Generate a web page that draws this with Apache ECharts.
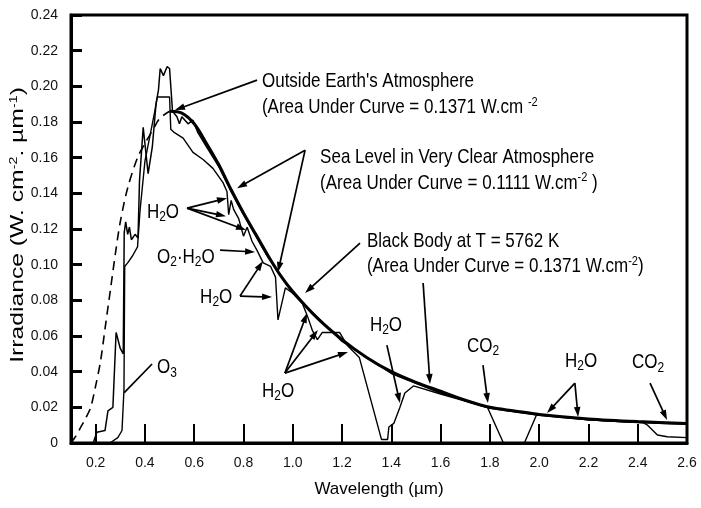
<!DOCTYPE html>
<html>
<head>
<meta charset="utf-8">
<script src="https://cdn.jsdelivr.net/npm/echarts@6/dist/echarts.min.js"></script>
<style>
html, body { margin: 0; padding: 0; background: #fff; }
#chart { width: 701px; height: 508px; }
</style>
</head>
<body>
<div id="chart"></div>
<script>
// wavelength ticks (µm)
var xTicks = [0.2, 0.4, 0.6, 0.8, 1.0, 1.2, 1.4, 1.6, 1.8, 2.0, 2.2, 2.4, 2.6];

// black body 5762 K, dashed part (short wavelengths)
var blackDash = [
  [0.10, 0], [0.12, 0.004], [0.14, 0.009], [0.16, 0.014], [0.18, 0.020],
  [0.20, 0.032], [0.22, 0.046], [0.24, 0.066], [0.26, 0.086], [0.28, 0.106],
  [0.30, 0.124], [0.33, 0.143], [0.37, 0.160], [0.40, 0.168], [0.43, 0.175],
  [0.46, 0.182], [0.50, 0.186]
];

// black body, solid part
var blackSolid = [
  [0.50, 0.186], [0.55, 0.185], [0.60, 0.179], [0.65, 0.168], [0.70, 0.156],
  [0.75, 0.142], [0.80, 0.129], [0.85, 0.117], [0.90, 0.105], [0.95, 0.094],
  [1.00, 0.085], [1.10, 0.070], [1.20, 0.058], [1.30, 0.048], [1.40, 0.040],
  [1.50, 0.034], [1.60, 0.029], [1.70, 0.024], [1.80, 0.020], [1.90, 0.018],
  [2.00, 0.016], [2.20, 0.0135], [2.40, 0.012], [2.60, 0.011]
];

// outside earth's atmosphere
var outside = [
  [0.19, 0], [0.205, 0.006], [0.238, 0.007], [0.25, 0.018], [0.27, 0.020],
  [0.283, 0.062], [0.30, 0.053], [0.312, 0.050], [0.316, 0.118], [0.322, 0.124],
  [0.33, 0.117], [0.337, 0.121], [0.345, 0.114], [0.36, 0.117], [0.372, 0.115],
  [0.378, 0.147], [0.393, 0.177], [0.413, 0.151], [0.43, 0.166], [0.445, 0.190],
  [0.455, 0.198], [0.462, 0.210], [0.475, 0.206], [0.49, 0.211], [0.50, 0.210],
  [0.512, 0.186], [0.53, 0.183], [0.54, 0.179], [0.55, 0.183], [0.575, 0.179],
  [0.595, 0.181], [0.615, 0.174], [0.65, 0.166], [0.70, 0.155], [0.75, 0.141],
  [0.80, 0.128], [0.90, 0.104], [1.00, 0.084], [1.20, 0.057], [1.40, 0.039],
  [1.60, 0.028], [1.80, 0.0195], [2.00, 0.0155], [2.20, 0.013], [2.40, 0.0115],
  [2.60, 0.0105]
];

// sea level in very clear atmosphere
var seaLevel = [
  [0.258, 0], [0.29, 0.003], [0.307, 0.007], [0.315, 0.030], [0.318, 0.099],
  [0.33, 0.101], [0.35, 0.105], [0.37, 0.110], [0.38, 0.130], [0.40, 0.158],
  [0.42, 0.172], [0.44, 0.186], [0.45, 0.194], [0.50, 0.194], [0.505, 0.176],
  [0.52, 0.174], [0.555, 0.171], [0.595, 0.163], [0.636, 0.159], [0.676, 0.154],
  [0.717, 0.146], [0.733, 0.141], [0.74, 0.128], [0.75, 0.136], [0.76, 0.131],
  [0.78, 0.126], [0.80, 0.116], [0.815, 0.121], [0.835, 0.113], [0.855, 0.108],
  [0.88, 0.101], [0.91, 0.099], [0.93, 0.093], [0.94, 0.069], [0.955, 0.078],
  [0.97, 0.087], [1.00, 0.084], [1.04, 0.078], [1.06, 0.071], [1.08, 0.063],
  [1.10, 0.058], [1.12, 0.062], [1.16, 0.062], [1.19, 0.062], [1.22, 0.055],
  [1.27, 0.048], [1.36, 0.002], [1.385, 0.002], [1.39, 0.009], [1.41, 0.011],
  [1.435, 0.020], [1.455, 0.028], [1.49, 0.032], [1.60, 0.0275], [1.70, 0.0235],
  [1.79, 0.020], [1.855, 0], [1.94, 0], [1.99, 0.016], [2.10, 0.0145],
  [2.20, 0.013], [2.30, 0.0122], [2.42, 0.0115], [2.44, 0.010], [2.48, 0.0045],
  [2.52, 0.0035], [2.60, 0.003]
];

// annotation texts: [text, wavelength, irradiance] (left edge, middle)
var notes = [
  ["Outside Earth's Atmosphere", 0.875, 0.2029],
  ['(Area Under Curve = 0.1371 W.cm {p|-2}', 0.875, 0.1878],
  ['Sea Level in Very Clear Atmosphere', 1.111, 0.1598],
  ['(Area Under Curve = 0.1111 W.cm{p|-2} )', 1.111, 0.1457],
  ['Black Body at T = 5762 K', 1.301, 0.1127],
  ['(Area Under Curve = 0.1371 W.cm{p|-2})', 1.301, 0.0987],
  ['H{s|2}O', 0.408, 0.129],
  ['O{s|2}·H{s|2}O', 0.449, 0.1037],
  ['H{s|2}O', 0.624, 0.0813],
  ['H{s|2}O', 0.875, 0.0286],
  ['H{s|2}O', 1.313, 0.0661],
  ['O{s|3}', 0.449, 0.042],
  ['CO{s|2}', 1.707, 0.0538],
  ['H{s|2}O', 2.105, 0.0454],
  ['CO{s|2}', 2.377, 0.0448]
];

// pointer lines: [x1, y1, x2, y2, arrowhead]
var pointers = [
  [0.855, 0.2035, 0.522, 0.1867, 1],
  [1.050, 0.1642, 0.774, 0.1429, 1],
  [1.050, 0.1642, 0.940, 0.0959, 1],
  [1.273, 0.1121, 1.050, 0.0841, 1],
  [1.529, 0.0897, 1.557, 0.0331, 1],
  [0.571, 0.1317, 0.733, 0.1373, 1],
  [0.571, 0.1317, 0.729, 0.1272, 1],
  [0.571, 0.1317, 0.810, 0.1194, 1],
  [0.705, 0.1082, 0.847, 0.1071, 1],
  [0.786, 0.0824, 0.916, 0.0818, 1],
  [0.786, 0.0824, 0.879, 0.1020, 1],
  [0.968, 0.0392, 1.058, 0.0729, 1],
  [0.968, 0.0392, 1.102, 0.0633, 1],
  [0.968, 0.0392, 1.224, 0.0510, 1],
  [1.382, 0.0549, 1.435, 0.0224, 1],
  [0.429, 0.0443, 0.319, 0.0286, 0],
  [1.772, 0.0437, 1.792, 0.0224, 1],
  [2.145, 0.0336, 2.032, 0.0168, 1],
  [2.145, 0.0336, 2.158, 0.0146, 1],
  [2.450, 0.0336, 2.519, 0.0129, 1]
];

var font = '"Liberation Sans", Arial, Helvetica, sans-serif';
var rich = {
  s: { fontSize: 12, fontFamily: font, fill: '#000', padding: [8, 0, 0, 0] },
  p: { fontSize: 11, fontFamily: font, fill: '#000', padding: [0, 0, 9, 0] },
  n: { fontSize: 19, fontFamily: font, fill: '#000' }
};

var chart = echarts.init(document.getElementById('chart'));

var option = {
  backgroundColor: '#fff',
  animation: false,
  grid: {
    left: 71, right: 14, top: 15, bottom: 65,
    show: true, borderColor: '#000', borderWidth: 3
  },
  xAxis: {
    type: 'value', min: 0.1, max: 2.6,
    name: 'Wavelength (µm)', nameLocation: 'middle', nameGap: 38,
    nameTextStyle: { fontSize: 17, color: '#000', fontFamily: font },
    axisLine: { lineStyle: { color: '#000', width: 3 } },
    axisTick: { inside: true, length: 19, customValues: xTicks.slice(0, 12), lineStyle: { color: '#000', width: 2 } },
    axisLabel: {
      customValues: xTicks, margin: 13, fontSize: 14, color: '#111', fontFamily: font,
      formatter: function (v) { return v.toFixed(1); }
    },
    splitLine: { show: false }
  },
  yAxis: {
    type: 'value', min: 0, max: 0.24, interval: 0.02,
    axisLine: { show: true, lineStyle: { color: '#000', width: 3 } },
    axisTick: { show: true, inside: true, length: 11, lineStyle: { color: '#000', width: 3 } },
    axisLabel: {
      margin: 13, fontSize: 14, color: '#111', fontFamily: font,
      formatter: function (v) { return v === 0 ? '0' : v.toFixed(2); }
    },
    splitLine: { show: false }
  },
  series: [
    { type: 'line', data: blackDash, showSymbol: false, smooth: 0.3,
      lineStyle: { color: '#000', width: 1.6, type: [9, 6] } },
    { type: 'line', data: outside, showSymbol: false,
      lineStyle: { color: '#000', width: 1.5 } },
    { type: 'line', data: seaLevel, showSymbol: false,
      lineStyle: { color: '#000', width: 1.4 } },
    { type: 'line', data: blackSolid, showSymbol: false, smooth: 0.3,
      lineStyle: { color: '#000', width: 3 } }
  ]
};
chart.setOption(option);

function px(x, y) { return chart.convertToPixel({ gridIndex: 0 }, [x, y]); }

var els = [];
pointers.forEach(function (a) {
  var p1 = px(a[0], a[1]), p2 = px(a[2], a[3]);
  var dx = p2[0] - p1[0], dy = p2[1] - p1[1];
  var len = Math.sqrt(dx * dx + dy * dy), ux = dx / len, uy = dy / len;
  var hl = a[4] ? 10 : 0, hw = 3.3;
  var bx = p2[0] - ux * hl, by = p2[1] - uy * hl;
  els.push({ type: 'line', silent: true,
    shape: { x1: p1[0], y1: p1[1], x2: bx + ux * 1, y2: by + uy * 1 },
    style: { stroke: '#000', lineWidth: 1.7 } });
  if (a[4]) {
    els.push({ type: 'polygon', silent: true,
      shape: { points: [[p2[0], p2[1]], [bx - uy * hw, by + ux * hw], [bx + uy * hw, by - ux * hw]] },
      style: { fill: '#000' } });
  }
});
notes.forEach(function (n) {
  var p = px(n[1], n[2]);
  els.push({ type: 'text', silent: true, x: p[0], y: p[1], scaleY: 1.15,
    style: { text: n[0], rich: rich, fill: '#000', fontSize: 17, fontFamily: font,
      align: 'left', verticalAlign: 'middle', textAlign: 'left', textVerticalAlign: 'middle' } });
});
// rotated y axis title
els.push({ type: 'text', silent: true, x: 18, y: 225, rotation: Math.PI / 2, scaleX: 1.3,
  style: { text: '{n|Irradiance (W. cm}{p|-2}{n|. µm}{p|-1}{n|)}', rich: rich, fill: '#000',
    fontSize: 19, fontFamily: font,
    align: 'center', verticalAlign: 'middle', textAlign: 'center', textVerticalAlign: 'middle' } });

chart.setOption({ graphic: { elements: els } });
</script>
</body>
</html>
